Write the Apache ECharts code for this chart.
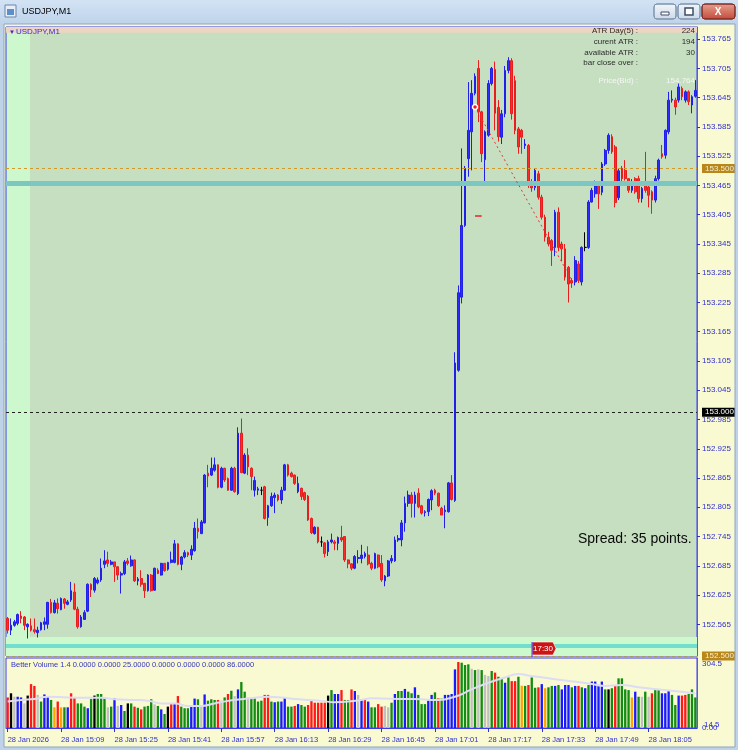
<!DOCTYPE html>
<html>
<head>
<meta charset="utf-8">
<script src="https://cdn.jsdelivr.net/npm/echarts@6/dist/echarts.min.js"></script>
<style>
  html, body { margin: 0; padding: 0; background: #c3d6eb; }
  #chart { width: 738px; height: 750px; }
</style>
</head>
<body>
<div id="chart"></div>
<script>
// USDJPY M1, 28 Jan 2026, 14:53 .. 18:19
// candle rows: [open, close, low, high]
var candles = [
  [152.577,152.553,152.546,152.580],[152.553,152.563,152.543,152.577],[152.563,152.570,152.560,152.574],[152.567,152.585,152.563,152.587],
  [152.582,152.577,152.567,152.592],[152.580,152.563,152.553,152.582],[152.560,152.565,152.536,152.567],[152.562,152.553,152.550,152.577],
  [152.554,152.550,152.546,152.577],[152.548,152.553,152.538,152.560],[152.554,152.568,152.552,152.570],[152.565,152.570,152.553,152.579],
  [152.565,152.610,152.556,152.611],[152.610,152.589,152.587,152.617],[152.589,152.609,152.587,152.615],[152.608,152.597,152.587,152.618],
  [152.595,152.618,152.594,152.620],[152.617,152.608,152.597,152.619],[152.606,152.611,152.604,152.615],[152.615,152.634,152.611,152.652],
  [152.631,152.596,152.594,152.649],[152.596,152.560,152.556,152.601],[152.560,152.580,152.558,152.584],[152.575,152.589,152.574,152.594],
  [152.592,152.647,152.590,152.649],[152.647,152.636,152.621,152.649],[152.635,152.659,152.630,152.662],[152.650,152.656,152.647,152.661],
  [152.656,152.680,152.652,152.700],[152.688,152.695,152.680,152.717],[152.697,152.690,152.683,152.714],[152.688,152.693,152.686,152.697],
  [152.693,152.683,152.652,152.693],[152.683,152.666,152.656,152.684],[152.666,152.669,152.628,152.673],[152.669,152.693,152.666,152.697],
  [152.695,152.690,152.686,152.701],[152.685,152.697,152.683,152.706],[152.697,152.654,152.652,152.698],[152.654,152.658,152.645,152.662],
  [152.659,152.647,152.642,152.676],[152.649,152.634,152.619,152.650],[152.634,152.666,152.632,152.668],[152.666,152.634,152.632,152.668],
  [152.635,152.680,152.634,152.681],[152.676,152.669,152.668,152.680],[152.666,152.690,152.665,152.691],[152.690,152.675,152.673,152.691],
  [152.678,152.692,152.675,152.693],[152.692,152.697,152.690,152.714],[152.692,152.730,152.690,152.738],[152.730,152.688,152.686,152.731],
  [152.688,152.703,152.676,152.705],[152.703,152.712,152.700,152.717],[152.712,152.707,152.703,152.714],[152.707,152.719,152.697,152.727],
  [152.716,152.762,152.714,152.775],[152.762,152.755,152.741,152.782],[152.751,152.775,152.750,152.779],[152.773,152.871,152.772,152.873],
  [152.875,152.869,152.846,152.892],[152.871,152.885,152.869,152.907],[152.881,152.892,152.878,152.907],[152.892,152.846,152.844,152.893],
  [152.846,152.885,152.844,152.888],[152.885,152.861,152.857,152.886],[152.864,152.840,152.839,152.866],[152.840,152.885,152.839,152.888],
  [152.885,152.837,152.835,152.888],[152.833,152.957,152.830,152.969],[152.957,152.876,152.875,152.987],[152.875,152.912,152.873,152.916],
  [152.912,152.888,152.871,152.926],[152.885,152.868,152.840,152.887],[152.840,152.860,152.827,152.868],[152.840,152.843,152.830,152.847],
  [152.840,152.840,152.830,152.847],[152.847,152.782,152.780,152.849],[152.784,152.808,152.767,152.810],[152.808,152.827,152.806,152.835],
  [152.825,152.830,152.793,152.835],[152.830,152.820,152.817,152.832],[152.820,152.840,152.812,152.847],[152.840,152.892,152.839,152.894],
  [152.892,152.871,152.868,152.894],[152.875,152.868,152.866,152.878],[152.871,152.854,152.851,152.872],[152.837,152.854,152.834,152.868],
  [152.844,152.827,152.820,152.845],[152.835,152.821,152.818,152.837],[152.828,152.779,152.777,152.830],[152.782,152.753,152.750,152.784],
  [152.751,152.764,152.749,152.766],[152.764,152.734,152.731,152.765],[152.734,152.734,152.724,152.745],[152.732,152.710,152.702,152.734],
  [152.714,152.734,152.705,152.738],[152.734,152.738,152.731,152.751],[152.734,152.731,152.717,152.738],[152.731,152.743,152.717,152.745],
  [152.743,152.738,152.734,152.767],[152.745,152.697,152.693,152.745],[152.697,152.689,152.680,152.698],[152.689,152.680,152.676,152.690],
  [152.680,152.704,152.678,152.707],[152.700,152.702,152.690,152.717],[152.700,152.707,152.690,152.728],[152.704,152.710,152.700,152.714],
  [152.707,152.689,152.686,152.725],[152.690,152.680,152.676,152.693],[152.680,152.710,152.678,152.712],[152.707,152.683,152.680,152.708],
  [152.690,152.656,152.652,152.707],[152.654,152.664,152.643,152.666],[152.664,152.695,152.662,152.697],[152.695,152.700,152.690,152.707],
  [152.695,152.738,152.693,152.745],[152.738,152.741,152.734,152.748],[152.738,152.773,152.725,152.779],[152.773,152.813,152.755,152.827],
  [152.813,152.830,152.806,152.839],[152.830,152.813,152.784,152.836],[152.813,152.830,152.784,152.837],[152.834,152.806,152.803,152.844],
  [152.808,152.793,152.790,152.810],[152.794,152.796,152.786,152.799],[152.796,152.821,152.787,152.823],[152.820,152.839,152.799,152.842],
  [152.840,152.834,152.830,152.843],[152.834,152.808,152.806,152.835],[152.803,152.789,152.789,152.806],[152.796,152.799,152.762,152.809],
  [152.796,152.855,152.794,152.857],[152.855,152.821,152.819,152.871],[152.819,153.101,152.816,153.123],[153.086,153.245,153.083,153.260],
  [153.236,153.383,153.223,153.541],[153.383,153.500,153.380,153.505],[153.520,153.578,153.483,153.677],[153.575,153.654,153.496,153.681],
  [153.654,153.689,153.650,153.695],[153.705,153.616,153.595,153.722],[153.616,153.530,153.513,153.618],[153.518,153.575,153.472,153.578],
  [153.568,153.674,153.565,153.681],[153.674,153.705,153.670,153.708],[153.703,153.613,153.578,153.719],[153.625,153.565,153.555,153.640],
  [153.564,153.612,153.550,153.620],[153.612,153.701,153.605,153.710],[153.701,153.721,153.695,153.728],[153.721,153.612,153.600,153.726],
  [153.680,153.578,153.570,153.690],[153.581,153.544,153.530,153.585],[153.578,153.564,153.530,153.581],[153.547,153.550,153.540,153.560],
  [153.547,153.472,153.460,153.550],[153.472,153.460,153.452,153.478],[153.461,153.496,153.455,153.500],[153.489,153.441,153.436,153.495],
  [153.441,153.400,153.395,153.446],[153.400,153.359,153.350,153.405],[153.359,153.345,153.340,153.370],[153.352,153.332,153.300,153.355],
  [153.338,153.410,153.320,153.415],[153.410,153.338,153.330,153.420],[153.345,153.335,153.310,153.350],[153.335,153.277,153.270,153.345],
  [153.297,153.263,153.225,153.300],[153.270,153.265,153.255,153.275],[153.267,153.311,153.260,153.320],[153.304,153.270,153.265,153.310],
  [153.267,153.338,153.260,153.340],[153.338,153.338,153.330,153.369],[153.338,153.431,153.335,153.435],[153.431,153.455,153.430,153.460],
  [153.448,153.469,153.440,153.475],[153.469,153.448,153.417,153.472],[153.451,153.509,153.445,153.513],[153.509,153.537,153.505,153.540],
  [153.537,153.568,153.530,153.572],[153.565,153.534,153.530,153.570],[153.544,153.430,153.420,153.548],[153.440,153.495,153.435,153.500],
  [153.500,153.479,153.470,153.505],[153.496,153.479,153.475,153.517],[153.479,153.455,153.450,153.480],[153.455,153.472,153.450,153.478],
  [153.479,153.452,153.448,153.482],[153.479,153.438,153.430,153.485],[153.438,153.459,153.430,153.462],[153.472,153.455,153.450,153.534],
  [153.462,153.445,153.420,153.470],[153.452,153.435,153.407,153.455],[153.435,153.479,153.430,153.485],[153.479,153.517,153.475,153.520],
  [153.530,153.524,153.520,153.548],[153.527,153.578,153.520,153.580],[153.575,153.640,153.570,153.657],[153.640,153.642,153.635,153.660],
  [153.640,153.626,153.610,153.645],[153.640,153.667,153.635,153.674],[153.664,153.647,153.640,153.668],[153.640,153.657,153.635,153.660],
  [153.657,153.637,153.630,153.660],[153.630,153.647,153.613,153.650],[153.648,153.660,153.645,153.681]
];

// Better Volume bars
var volumes = [
  133,151,136,136,133,107,141,191,183,144, 115,146,136,122,90,115,90,90,90,151,
  133,107,107,93,86,126,141,148,148,132, 90,93,129,96,100,74,107,107,93,88,
  81,93,96,125,103,96,81,61,93,107, 107,139,93,86,86,93,128,125,96,146,
  119,125,122,122,119,133,148,162,139,168, 200,158,132,129,129,115,119,144,144,115,
  112,115,115,132,93,93,96,104,100,93, 100,122,110,110,110,110,141,165,148,148,
  165,122,122,168,161,144,126,122,115,90, 90,104,93,96,90,110,148,161,161,170,
  158,151,177,144,104,104,119,144,155,129, 128,144,144,148,255,287,284,274,277,258,
  252,255,252,231,226,248,241,223,216,197, 220,204,204,223,184,183,187,220,175,177,
  191,173,177,183,183,187,168,187,187,177, 183,183,177,173,187,202,202,183,202,168,
  168,173,187,216,216,168,165,133,158,136, 136,158,136,151,165,165,151,151,165,144,
  100,141,141,144,148,168,133
];
// r red, g green, b blue, k black, s silver, o orange
var volumeColorCodes = (
  'rksbbskrrs' + 'gbbgorogbr' + 'rgggbgkggg' + 'sgbsbgkgrg' + 'rgggsgbgkr' +
  'brgggbbgsb' + 'gggrsgrgsb' + 'ggsggggrrg' + 'bgbbggrbgg' + 'rrrrrrkgbb' +
  'rggrbsbrbg' + 'grrssgbggb' + 'ggbgggbbgr' + 'gbbbbrgggs' + 'gsgssgrggb' +
  'grrgogrggr' + 'boggbgbbbg' + 'brgbgbbbbg' + 'kgrggggobg' + 'sgsrggbbbg' + 'gbrrggg'
).split('');
// volume average line, [bar index, value]
var volumeAverage = [
  [0,115],[4,122],[8,126],[12,136],[18,133],[24,132],[28,132],[32,125],[38,122],[42,119],
  [46,107],[50,107],[54,96],[58,96],[62,107],[66,118],[70,125],[74,132],[78,136],[82,133],
  [86,126],[90,122],[94,118],[98,112],[102,115],[106,122],[109,129],[119,126],[124,125],[128,122],
  [134,136],[139,168],[144,197],[149,220],[153,235],[157,226],[164,212],[174,194],[179,183],[184,187],
  [189,177],[199,162],[206,150]
];

var timeLabels = ['28 Jan 2026', '28 Jan 15:09', '28 Jan 15:25', '28 Jan 15:41', '28 Jan 15:57',
  '28 Jan 16:13', '28 Jan 16:29', '28 Jan 16:45', '28 Jan 17:01', '28 Jan 17:17',
  '28 Jan 17:33', '28 Jan 17:49', '28 Jan 18:05'];
var priceTicks = [152.565, 152.625, 152.685, 152.745, 152.805, 152.865, 152.925, 152.985, 153.045,
  153.105, 153.165, 153.225, 153.285, 153.345, 153.405, 153.465, 153.525, 153.585, 153.645,
  153.705, 153.765];
var volumeTicks = [0, 304.5];
var volumeLevelTicks = [14.5];

var atrLabels = ['ATR Day(5) :', 'curent ATR :', 'available ATR :', 'bar close over :'];
var atrValues = ['224', '194', '30', ''];

// minute categories from 14:53
var minutes = [];
for (var i = 0; i < candles.length; i++) {
  var m = 14 * 60 + 53 + i;
  minutes.push(Math.floor(m / 60) + ':' + ('0' + (m % 60)).slice(-2));
}

var FONT = 'Liberation Sans';
var AXIS_BLUE = '#2e2ed2';
var PANE_BLUE = '#3a3af0';
var palette = { r: '#ff1a1a', g: '#128c12', b: '#1a1aff', k: '#000000', s: '#c0c0c0', o: '#ffa500' };

var candleData = candles.map(function (c) {
  if (c[0] === c[1]) {
    return { value: c, itemStyle: { color: '#000', color0: '#000', borderColor: '#000', borderColor0: '#000' } };
  }
  return c;
});
var volumeData = volumes.map(function (v, i) {
  return { value: v, itemStyle: { color: palette[volumeColorCodes[i]] } };
});

var chart = echarts.init(document.getElementById('chart'));

function levelLabel(text, bg, fg) {
  return {
    show: true, position: 'end', distance: 5, formatter: text,
    backgroundColor: bg, color: fg, padding: [1, 3, 0, 3],
    fontFamily: FONT, fontSize: 8
  };
}

var staticGraphics = [
  // window title bar and frame
  { type: 'rect', shape: { x: 0, y: 0, width: 738, height: 24 },
    style: { fill: new echarts.graphic.LinearGradient(0, 0, 0, 1, [
      { offset: 0, color: '#d3e3f4' }, { offset: 1, color: '#bed3ea' }]) }, z: 10 },
  { type: 'rect', shape: { x: 0, y: 24, width: 4, height: 726 }, style: { fill: '#bed3ea' }, z: 10 },
  { type: 'rect', shape: { x: 735, y: 24, width: 3, height: 726 }, style: { fill: '#bed3ea' }, z: 10 },
  { type: 'rect', shape: { x: 0, y: 747, width: 738, height: 3 }, style: { fill: '#bed3ea' }, z: 10 },
  { type: 'rect', shape: { x: 4, y: 24, width: 731, height: 723 },
    style: { fill: null, stroke: '#8da6c2', lineWidth: 1 }, z: 10 },
  { type: 'rect', shape: { x: 5, y: 5, width: 11, height: 12 },
    style: { fill: '#e8eef8', stroke: '#6b86a8', lineWidth: 1 }, z: 11 },
  { type: 'rect', shape: { x: 7, y: 9, width: 7, height: 6 }, style: { fill: '#5f8fc8' }, z: 12 },
  { type: 'text', x: 22, y: 12, style: { text: 'USDJPY,M1', fill: '#000', font: '9px ' + FONT, verticalAlign: 'middle' }, z: 11 },
  { type: 'rect', shape: { x: 654, y: 4, width: 22, height: 15, r: 3 },
    style: { fill: new echarts.graphic.LinearGradient(0, 0, 0, 1, [
      { offset: 0, color: '#f2f6fb' }, { offset: 1, color: '#cdd9e8' }]), stroke: '#7d93ad' }, z: 11 },
  { type: 'rect', shape: { x: 661, y: 12, width: 8, height: 3 }, style: { fill: '#fff', stroke: '#3d4e66' }, z: 12 },
  { type: 'rect', shape: { x: 678, y: 4, width: 22, height: 15, r: 3 },
    style: { fill: new echarts.graphic.LinearGradient(0, 0, 0, 1, [
      { offset: 0, color: '#f2f6fb' }, { offset: 1, color: '#cdd9e8' }]), stroke: '#7d93ad' }, z: 11 },
  { type: 'rect', shape: { x: 685, y: 8, width: 8, height: 7 }, style: { fill: '#fff', stroke: '#3d4e66', lineWidth: 1.5 }, z: 12 },
  { type: 'rect', shape: { x: 702, y: 4, width: 33, height: 15, r: 3 },
    style: { fill: new echarts.graphic.LinearGradient(0, 0, 0, 1, [
      { offset: 0, color: '#e6a08f' }, { offset: 1, color: '#c3493a' }]), stroke: '#7f2b22' }, z: 11 },
  { type: 'text', x: 718, y: 12, style: { text: 'X', fill: '#fff', font: 'bold 10px ' + FONT, align: 'center', verticalAlign: 'middle' }, z: 12 },
  // pane captions
  { type: 'text', x: 9, y: 32, style: { text: '▼', fill: AXIS_BLUE, font: '6px ' + FONT, verticalAlign: 'middle' }, z: 20 },
  { type: 'text', x: 16, y: 32, style: { text: 'USDJPY,M1', fill: AXIS_BLUE, font: '8px ' + FONT, verticalAlign: 'middle' }, z: 20 },
  { type: 'text', x: 11, y: 665, style: { text: 'Better Volume 1.4 0.0000 0.0000 25.0000 0.0000 0.0000 0.0000 86.0000',
      fill: '#3434c4', font: '7.5px ' + FONT, verticalAlign: 'middle' }, z: 20 },
  { type: 'text', x: 578, y: 539, style: { text: 'Spread: 35 points.', fill: '#0a0a0a', font: '14px ' + FONT, verticalAlign: 'middle' }, z: 20 },
  { type: 'text', x: 638, y: 81, style: { text: 'Price(Bid) :', fill: '#f6f6f6', font: '8px ' + FONT, align: 'right', verticalAlign: 'middle' }, z: 20 },
  { type: 'text', x: 695, y: 81, style: { text: '154.764', fill: '#f6f6f6', font: '8px ' + FONT, align: 'right', verticalAlign: 'middle' }, z: 20 }
];
atrLabels.forEach(function (t, k) {
  var y = 31 + k * 10.7;
  staticGraphics.push({ type: 'text', x: 638, y: y, style: { text: t, fill: '#2b2b2b', font: '8px ' + FONT, align: 'right', verticalAlign: 'middle' }, z: 20 });
  staticGraphics.push({ type: 'text', x: 695, y: y, style: { text: atrValues[k], fill: '#2b2b2b', font: '8px ' + FONT, align: 'right', verticalAlign: 'middle' }, z: 20 });
});

var volumeAxisBase = {
  type: 'value', gridIndex: 1, position: 'right', min: 0, max: 304.5,
  splitLine: { show: false }, axisTick: { show: false }
};

var option = {
  animation: false,
  backgroundColor: '#fafad2',
  grid: [
    { left: 6, top: 27, width: 691, height: 629, show: true, borderColor: PANE_BLUE, borderWidth: 1,
      outerBoundsMode: 'none',
      backgroundColor: new echarts.graphic.LinearGradient(0, 0, 1, 0, [
        { offset: 0, color: '#cdf7cd' }, { offset: 0.0347, color: '#cdf7cd' },
        { offset: 0.0348, color: '#c7dfc1' }, { offset: 1, color: '#c7dfc1' }]) },
    { left: 6, top: 658, width: 691, height: 70, show: true, borderColor: PANE_BLUE, borderWidth: 1,
      outerBoundsMode: 'none', backgroundColor: '#fafad2' }
  ],
  xAxis: [
    { type: 'category', gridIndex: 0, data: minutes, boundaryGap: true,
      axisLine: { show: false }, axisTick: { show: false }, axisLabel: { show: false }, splitLine: { show: false } },
    { type: 'category', gridIndex: 1, data: minutes, boundaryGap: true,
      axisLine: { show: true, lineStyle: { color: PANE_BLUE } },
      axisTick: { show: true, interval: 15, alignWithLabel: true, length: 4, lineStyle: { color: AXIS_BLUE } },
      axisLabel: { interval: 15, align: 'left', margin: 8, color: AXIS_BLUE, fontFamily: FONT, fontSize: 7.5,
        formatter: function (v, idx) { return timeLabels[Math.round(idx / 16)] || ''; } },
      splitLine: { show: false } }
  ],
  yAxis: [
    { type: 'value', gridIndex: 0, position: 'right', min: 152.5, max: 153.79,
      splitLine: { show: false },
      axisLine: { show: true, lineStyle: { color: '#5a5ae8' } },
      axisTick: { show: true, length: 3, customValues: priceTicks, lineStyle: { color: AXIS_BLUE } },
      axisLabel: { customValues: priceTicks, margin: 5, color: AXIS_BLUE, fontFamily: FONT, fontSize: 8,
        formatter: function (v) { return v.toFixed(3); } } },
    Object.assign({}, volumeAxisBase, {
      axisLine: { show: true, lineStyle: { color: '#5a5ae8' } },
      axisLabel: { customValues: volumeTicks, margin: 5, showMinLabel: true, showMaxLabel: true,
        hideOverlap: false, color: AXIS_BLUE, fontFamily: FONT, fontSize: 8,
        formatter: function (v) { return v === 0 ? '{b|0.00}' : '{t|304.5}'; },
        rich: { t: { padding: [12, 0, 0, 0], color: AXIS_BLUE, fontSize: 8, fontFamily: FONT },
                b: { padding: [0, 0, 0, 0], color: AXIS_BLUE, fontSize: 8, fontFamily: FONT } } } }),
    Object.assign({}, volumeAxisBase, {
      axisLine: { show: false },
      axisLabel: { customValues: volumeLevelTicks, margin: 7, hideOverlap: false,
        color: AXIS_BLUE, fontFamily: FONT, fontSize: 8,
        formatter: function (v) { return v.toFixed(1); } } })
  ],
  series: [
    {
      type: 'candlestick', xAxisIndex: 0, yAxisIndex: 0, data: candleData, barWidth: '66%',
      itemStyle: { color: '#2d2dff', color0: '#ff2a2a', borderColor: '#2020e6', borderColor0: '#e81e1e', borderWidth: 1 },
      markArea: {
        silent: true,
        data: [
          [{ yAxis: 152.5, itemStyle: { color: '#cdfacd' } }, { yAxis: 152.539 }],
          [{ yAxis: 153.778, itemStyle: { color: '#eed4c2' } }, { yAxis: 153.79 }]
        ]
      },
      markPoint: {
        silent: true, symbol: 'circle', symbolSize: 5,
        itemStyle: { color: '#e82020', borderColor: '#ffffff', borderWidth: 1.5 },
        label: { show: false },
        data: [{ coord: [140, 153.626] }]
      },
      markLine: {
        silent: true, symbol: ['none', 'none'],
        data: [
          { yAxis: 153.465, lineStyle: { color: '#7cc7c1', width: 5, type: 'solid' }, label: { show: false } },
          { yAxis: 152.521, lineStyle: { color: '#72dece', width: 4, type: 'solid' }, label: { show: false } },
          { yAxis: 153.5, lineStyle: { color: '#cf9a2a', width: 1, type: [3, 3] }, label: levelLabel('153.500', '#b8861b', '#f6efcf') },
          { yAxis: 153.0, lineStyle: { color: '#202020', width: 1, type: [3, 3] }, label: levelLabel('153.000', '#000000', '#ffffff') },
          { yAxis: 152.5, lineStyle: { color: '#a89a70', width: 1, type: [3, 3] }, label: levelLabel('152.500', '#b8861b', '#f6efcf') },
          [{ coord: [140, 153.626], lineStyle: { color: '#e83232', width: 1, type: [2, 3] }, label: { show: false } },
           { coord: [169, 153.271] }],
          [{ coord: [140, 153.402], lineStyle: { color: '#ee2222', width: 1.5, type: 'solid' }, label: { show: false } },
           { coord: [142, 153.402] }]
        ]
      }
    },
    { type: 'bar', xAxisIndex: 1, yAxisIndex: 1, data: volumeData, barWidth: '70%' },
    { type: 'line', xAxisIndex: 1, yAxisIndex: 1, data: volumeAverage, smooth: true, showSymbol: false,
      lineStyle: { color: '#dcdcf4', width: 2 }, z: 5 }
  ],
  graphic: staticGraphics
};

chart.setOption(option);

// 17:30 marker at the bottom of the price pane
var markIdx = minutes.indexOf('17:30');
var mx = Math.round(chart.convertToPixel({ xAxisIndex: 0 }, markIdx));
var markTop = 642, markBottom = 655;
var marker = [
  { type: 'polygon', shape: { points: [[mx, markTop], [mx + 21, markTop], [mx + 24, (markTop + markBottom) / 2], [mx + 21, markBottom], [mx, markBottom]] },
    style: { fill: '#cc1414', stroke: '#ffffff', lineWidth: 0.6 }, z: 30 },
  { type: 'line', shape: { x1: mx, y1: markTop, x2: mx, y2: 657 }, style: { stroke: PANE_BLUE, lineWidth: 1 }, z: 31 },
  { type: 'text', x: mx + 11, y: (markTop + markBottom) / 2 + 0.5,
    style: { text: '17:30', fill: '#ffffff', font: '8px ' + FONT, align: 'center', verticalAlign: 'middle' }, z: 32 }
];
chart.setOption({ graphic: staticGraphics.concat(marker) });
</script>
</body>
</html>
